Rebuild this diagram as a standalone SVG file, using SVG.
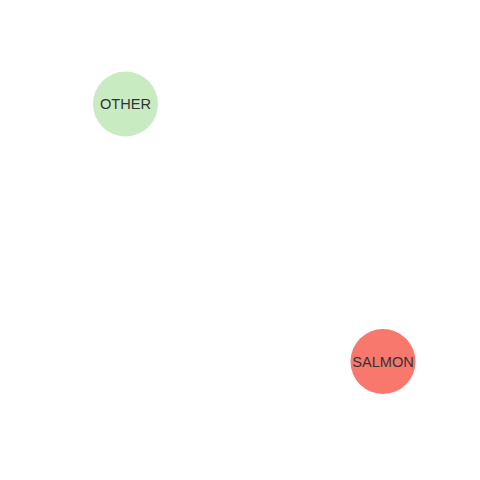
<svg xmlns="http://www.w3.org/2000/svg" width="480" height="480" viewBox="0 0 480 480">
<style>
.lbl{font-family:"Liberation Sans",Arial,sans-serif;font-size:14.6px;fill:#333;text-anchor:middle;dominant-baseline:central}
</style>
<rect width="480" height="480" fill="#fff"/>
<g id="connectors"></g>
<g id="node-other">
<circle cx="125.5" cy="104" r="32.5" fill="#c8ebc2"/>
<text class="lbl" x="125.5" y="104">OTHER</text>
</g>
<g id="node-salmon">
<circle cx="383" cy="361.5" r="32.5" fill="#f8786e"/>
<text class="lbl" x="383" y="361.5">SALMON</text>
</g>
</svg>
